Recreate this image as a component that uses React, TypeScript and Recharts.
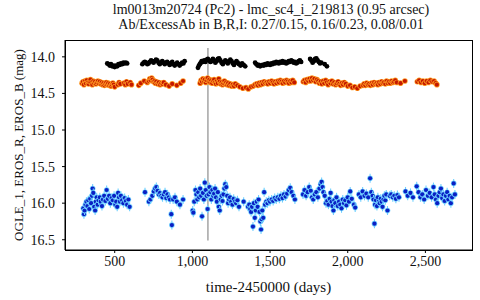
// Light curve of lm0013m20724: OGLE I, EROS R and EROS B photometry
import React from 'react';
import { ScatterChart, Scatter, XAxis, YAxis, ReferenceLine, Label } from 'recharts';

const titleLines = [
  'lm0013m20724 (Pc2) - lmc_sc4_i_219813 (0.95 arcsec)',
  'Ab/ExcessAb in B,R,I: 0.27/0.15, 0.16/0.23, 0.08/0.01',
];
const xTicks = [500, 1000, 1500, 2000, 2500];
const yTicks = [14.0, 14.5, 15.0, 15.5, 16.0, 16.5];
const xDomain = [180, 2800];
const yDomain = [13.77, 16.64];
const markerTime = 1100;
const markerMags = [13.88, 16.51];

// [time-2450000, mag]
const eros_b: [number, number][] = [
  [452,14.09],[460,14.1],[468,14.12],[476,14.1],[484,14.13],[492,14.12],[500,14.14],[508,14.12],[516,14.13],[524,14.1],[532,14.11],[540,14.09],[548,14.1],[556,14.08],[564,14.09],[572,14.08],[580,14.09],
  [678,14.1],[686,14.08],[694,14.07],[702,14.08],[710,14.1],[718,14.09],[726,14.07],[734,14.05],[742,14.06],[750,14.08],[758,14.06],[766,14.04],[774,14.05],[782,14.08],[790,14.1],[798,14.08],[806,14.06],[814,14.08],[822,14.1],[830,14.08],[838,14.07],[846,14.09],[854,14.11],[862,14.09],[870,14.07],[878,14.1],[886,14.12],[894,14.1],[902,14.08],[910,14.1],[918,14.12],[926,14.1],[934,14.08],[942,14.09],[950,14.06],
  [1036,14.15],[1042,14.12],[1048,14.1],[1054,14.08],[1060,14.06],[1068,14.07],[1076,14.05],[1084,14.07],[1092,14.04],[1100,14.03],[1108,14.05],[1116,14.07],[1124,14.06],[1132,14.03],[1140,14.05],[1148,14.08],[1156,14.06],[1164,14.03],[1172,14.02],[1180,14.05],[1188,14.08],[1196,14.1],[1204,14.07],[1212,14.05],[1220,14.07],[1228,14.09],[1236,14.06],[1244,14.04],[1252,14.06],[1260,14.09],[1268,14.11],[1276,14.08],[1284,14.06],[1292,14.08],[1300,14.1],[1310,14.12],[1320,14.09],[1330,14.11],[1340,14.13],
  [1404,14.08],[1412,14.1],[1420,14.12],[1428,14.11],[1436,14.13],[1444,14.12],[1452,14.11],[1460,14.12],[1468,14.1],[1476,14.11],[1484,14.09],[1492,14.1],[1500,14.11],[1508,14.09],[1516,14.1],[1524,14.08],[1532,14.09],[1540,14.07],[1548,14.08],[1556,14.09],[1564,14.07],[1572,14.08],[1580,14.06],[1588,14.08],[1596,14.07],[1604,14.09],[1612,14.08],[1620,14.06],[1628,14.07],[1636,14.05],[1644,14.06],[1652,14.08],[1660,14.07],[1668,14.09],[1676,14.08],[1684,14.06],[1692,14.05],[1700,14.07],
  [1758,14.03],[1766,14.05],[1774,14.08],[1782,14.06],[1790,14.03],[1798,14.02],[1806,14.05],[1814,14.07],[1822,14.09],[1830,14.08],[1852,14.1],[1866,14.13],
];

const eros_r: [number, number][] = [
  [290,14.36],[296,14.34],[302,14.38],[308,14.33],[314,14.36],[320,14.32],[326,14.35],[332,14.37],[338,14.34],[344,14.31],[350,14.35],[356,14.38],[362,14.33],[368,14.36],[374,14.34],[380,14.37],[386,14.35],[392,14.33],[398,14.36],[404,14.34],[410,14.37],[416,14.35],[422,14.38],[428,14.36],[434,14.39],[440,14.37],[446,14.35],[452,14.38],[458,14.36],[464,14.39],[470,14.37],[476,14.4],[482,14.38],[488,14.36],[494,14.38],[500,14.41],[520,14.38],[528,14.35],[536,14.37],[560,14.36],[568,14.38],[576,14.34],[584,14.37],[600,14.35],[608,14.38],
  [655,14.39],[668,14.36],[690,14.33],[710,14.35],[720,14.33],[726,14.3],[732,14.32],[738,14.29],[744,14.31],[750,14.34],[756,14.33],[762,14.36],[768,14.34],[776,14.37],[784,14.35],[792,14.38],[800,14.36],[808,14.37],[816,14.35],[830,14.38],[850,14.4],[870,14.37],[900,14.39],[925,14.36],[940,14.33],
  [1050,14.36],[1056,14.32],[1062,14.34],[1068,14.3],[1074,14.33],[1080,14.31],[1086,14.35],[1092,14.32],[1098,14.29],[1104,14.33],[1110,14.31],[1116,14.35],[1122,14.32],[1128,14.36],[1134,14.33],[1140,14.31],[1146,14.35],[1152,14.37],[1158,14.33],[1164,14.36],[1170,14.3],[1176,14.34],[1182,14.37],[1188,14.35],[1194,14.38],[1200,14.36],[1206,14.33],[1212,14.37],[1218,14.35],[1224,14.38],[1230,14.36],[1236,14.39],[1244,14.37],[1252,14.4],[1260,14.38],[1268,14.4],[1276,14.37],[1290,14.39],[1305,14.41],[1325,14.43],[1345,14.42],[1360,14.44],[1378,14.41],[1392,14.4],[1404,14.38],[1414,14.37],[1422,14.39],[1430,14.36],[1438,14.38],[1446,14.35],[1454,14.37],[1462,14.34],[1470,14.36],[1478,14.35],[1486,14.37],[1494,14.34],[1502,14.36],[1510,14.33],[1518,14.35],[1526,14.37],[1534,14.34],[1542,14.36],[1550,14.33],[1558,14.35],[1566,14.32],[1574,14.34],[1582,14.36],[1590,14.33],[1598,14.35],[1606,14.32],[1614,14.34],[1622,14.36],[1630,14.33],[1638,14.35],[1646,14.32],[1656,14.35],
  [1714,14.34],[1722,14.32],[1730,14.35],[1738,14.31],[1746,14.33],[1754,14.3],[1762,14.33],[1770,14.29],[1778,14.32],[1786,14.3],[1794,14.34],[1802,14.31],[1810,14.33],[1818,14.36],[1826,14.34],[1834,14.37],[1842,14.33],[1850,14.36],[1858,14.32],[1866,14.35],[1874,14.38],[1882,14.34],[1890,14.36],[1898,14.33],[1906,14.37],[1914,14.35],[1922,14.38],[1930,14.36],[1938,14.34],[1946,14.37],[1954,14.39],[1962,14.36],[1970,14.38],[1978,14.35],[1988,14.37],[2000,14.4],[2015,14.39],[2030,14.42],[2045,14.41],[2062,14.43],[2080,14.4],[2098,14.39],[2106,14.37],[2114,14.39],[2122,14.36],[2130,14.38],[2138,14.37],[2146,14.39],[2154,14.36],[2162,14.38],[2170,14.35],[2178,14.37],[2186,14.36],[2194,14.38],[2202,14.35],[2210,14.37],[2218,14.34],[2226,14.36],[2234,14.35],[2242,14.37],[2250,14.33],[2258,14.36],[2266,14.34],[2274,14.36],[2282,14.33],[2290,14.35],[2298,14.34],[2306,14.32],[2316,14.35],[2340,14.36],[2368,14.33],[2448,14.34],[2460,14.32],[2472,14.35],[2484,14.33],[2496,14.36],[2508,14.33],[2520,14.35],[2532,14.32],[2544,14.34],[2556,14.33],[2566,14.36],[2574,14.38],
];

const ogle_i: [number, number][] = [
  [298,16.07],[302,16.15],[306,16.1],[312,16.02],[318,15.98],[324,16.04],[330,15.96],[336,16.08],[342,15.94],[348,16.0],[354,15.9],[358,15.8],[362,15.86],[368,16.05],[374,16.1],[378,15.98],[384,15.92],[390,16.02],[396,15.96],[404,15.92],[410,15.98],[418,16.04],[424,15.95],[432,15.9],[440,15.97],[448,15.82],[456,15.94],[464,15.9],[472,16.0],[480,15.93],[488,15.96],[496,15.9],[504,16.02],[510,15.98],[516,16.05],[522,15.86],[528,15.92],[534,15.98],[540,15.9],[548,15.96],[556,16.0],[564,15.93],[572,15.97],[580,16.02],[588,15.95],[596,16.05],
  [695,15.85],[720,15.98],[730,15.95],[742,15.9],[752,15.84],[760,15.8],[768,15.78],[776,15.83],[784,15.88],[792,15.86],[800,15.9],[808,15.92],[816,15.88],[824,15.85],[832,15.93],[840,15.88],[848,15.92],[856,15.95],[864,16.15],[868,16.3],[876,15.95],[888,15.92],[900,15.98],[920,16.02],[940,15.95],
  [1002,16.1],[1006,16.13],[1012,15.98],[1020,15.82],[1026,15.88],[1032,15.95],[1038,15.85],[1044,15.92],[1050,15.8],[1056,15.9],[1062,16.18],[1068,15.86],[1074,15.95],[1080,15.72],[1086,15.82],[1092,15.9],[1098,16.08],[1104,15.88],[1110,15.78],[1116,15.85],[1122,15.95],[1128,15.82],[1134,15.9],[1140,15.87],[1146,15.8],[1152,15.92],[1158,15.98],[1164,15.85],[1170,16.05],[1176,16.1],[1182,15.95],[1188,15.9],[1194,15.97],[1200,15.88],[1206,15.8],[1212,15.74],[1218,15.78],[1224,15.9],[1230,16.0],[1236,15.95],[1242,15.92],[1250,15.98],[1258,16.02],[1266,15.94],[1274,15.98],[1282,16.0],[1290,15.96],[1300,16.05],[1330,15.98],
  [1358,16.05],[1366,16.02],[1372,16.08],[1378,16.12],[1384,16.05],[1390,16.32],[1396,16.0],[1402,16.2],[1408,16.1],[1414,15.98],[1420,16.05],[1426,15.95],[1432,16.12],[1438,16.25],[1442,16.36],[1446,16.22],[1450,16.1],[1456,16.2],[1462,15.85],[1468,16.02],[1476,15.98],[1484,16.0],[1492,15.96],[1500,15.98],[1510,15.95],[1520,15.97],[1530,15.93],[1540,15.95],[1550,15.92],[1560,15.94],[1570,15.9],[1580,15.93],[1590,15.88],[1600,15.91],[1610,15.87],[1620,15.82],[1630,15.79],[1640,15.85],[1650,15.9],[1660,15.95],
  [1712,15.88],[1722,15.82],[1732,15.9],[1742,15.85],[1752,15.78],[1762,15.83],[1770,15.92],[1778,15.95],[1788,15.88],[1798,15.85],[1808,15.92],[1818,15.8],[1826,15.74],[1832,15.71],[1838,15.78],[1844,15.85],[1852,15.9],[1860,16.0],[1868,15.97],[1876,16.02],[1884,15.94],[1890,15.86],[1896,15.98],[1902,16.04],[1908,16.1],[1914,15.96],[1920,16.0],[1928,15.92],[1936,16.04],[1944,15.98],[1952,16.02],[1960,16.07],[1968,15.95],[1976,16.0],[1984,15.96],[1992,16.03],[2000,15.92],[2008,15.98],[2016,15.84],[2026,15.94],[2040,16.02],[2048,16.06],
  [2072,15.88],[2084,15.92],[2096,15.84],[2108,15.9],[2120,15.87],[2132,15.92],[2144,15.66],[2152,15.85],[2160,15.9],[2166,15.95],[2172,16.28],[2176,16.02],[2182,15.96],[2188,16.04],[2194,15.92],[2200,15.98],[2206,16.0],[2212,15.94],[2218,15.98],[2224,16.05],[2230,15.95],[2236,15.9],[2242,15.96],[2248,15.88],[2256,16.1],[2270,15.9],[2280,15.88],[2290,15.92],[2300,15.9],[2310,15.94],[2320,15.89],[2330,15.92],
  [2372,15.84],[2386,15.9],[2404,15.86],[2420,15.92],[2444,15.77],[2456,15.85],[2468,15.92],[2480,15.88],[2492,15.95],[2504,15.82],[2516,15.9],[2528,15.86],[2540,15.92],[2552,15.78],[2560,15.88],[2568,15.95],[2576,16.0],[2584,15.9],[2592,15.85],[2600,15.8],[2608,15.93],[2616,15.88],[2624,15.97],[2632,15.9],[2640,15.85],[2648,15.95],[2656,15.9],[2664,16.0],[2672,15.92],[2682,15.73],[2690,15.88],
];

const toPoints = (rows: [number, number][]) => rows.map(([t, m]) => ({ t, m }));

const SERIF = 'Liberation Serif';
const TEXT = '#111';

const makeDot = (core: string, halo: string | null, bar: boolean, r: number) => (props: any) => {
  const { cx, cy } = props;
  if (cx == null || cy == null) return <g />;
  return (
    <g>
      {bar && <line x1={cx} x2={cx} y1={cy - 4.5} y2={cy + 4.5} stroke={halo || core} strokeWidth={1.1} />}
      {halo && <circle cx={cx} cy={cy} r={r + 0.7} fill={halo} />}
      <circle cx={cx} cy={cy} r={r} fill={core} />
    </g>
  );
};

const blueDot = makeDot('#0a1fc4', '#6fd0ff', true, 2.1);
const redDot = makeDot('#c41800', '#ff9a20', false, 2.1);
const blackDot = makeDot('#000000', null, false, 2.4);

const tickStyle = { fontFamily: SERIF, fontSize: 14, fill: TEXT };

export default function App() {
  return (
    <div style={{ position: 'absolute', left: 0, top: 0, width: 480, height: 300, fontFamily: SERIF }}>
      <div
        style={{
          position: 'absolute',
          left: 66,
          top: 2,
          width: 410,
          textAlign: 'center',
          fontSize: 14,
          lineHeight: '15px',
          color: TEXT,
        }}
      >
        {titleLines.map((line) => (
          <div key={line}>{line}</div>
        ))}
      </div>
      {/* plot frame */}
      <div
        style={{
          position: 'absolute',
          left: 65,
          top: 40,
          width: 406,
          height: 209,
          border: '1px solid #000',
        }}
      />
      <ScatterChart width={480} height={300} margin={{ top: 40, right: 8, bottom: 0, left: 5 }}>
        <XAxis
          type="number"
          dataKey="t"
          domain={xDomain}
          ticks={xTicks}
          allowDataOverflow
          tickFormatter={(v: number) => v.toLocaleString('en-US')}
          tick={tickStyle}
          tickSize={3}
          tickMargin={3}
          axisLine={{ stroke: '#000' }}
          tickLine={{ stroke: '#000' }}
          height={50}
        >
          <Label value="time-2450000 (days)" position="insideBottom" offset={8} style={{ ...tickStyle, fontSize: 15 }} />
        </XAxis>
        <YAxis
          type="number"
          dataKey="m"
          reversed
          domain={yDomain}
          ticks={yTicks}
          allowDataOverflow
          tickFormatter={(v: number) => v.toFixed(1)}
          tick={tickStyle}
          tickSize={3}
          tickMargin={7}
          axisLine={{ stroke: '#000' }}
          tickLine={{ stroke: '#000' }}
          width={60}
        >
          <Label
            value="OGLE_1, EROS_R, EROS_B (mag)"
            angle={-90}
            position="insideLeft"
            offset={13}
            style={{ ...tickStyle, fontSize: 13, textAnchor: 'middle' }}
          />
        </YAxis>
        <Scatter name="OGLE_1" data={toPoints(ogle_i)} shape={blueDot} isAnimationActive={false} />
        <Scatter name="EROS_R" data={toPoints(eros_r)} shape={redDot} isAnimationActive={false} />
        <Scatter name="EROS_B" data={toPoints(eros_b)} shape={blackDot} isAnimationActive={false} />
        <ReferenceLine
          segment={[
            { x: markerTime, y: markerMags[0] },
            { x: markerTime, y: markerMags[1] },
          ]}
          stroke="#aaaaaa"
          strokeWidth={1.6}
        />
      </ScatterChart>
    </div>
  );
}
